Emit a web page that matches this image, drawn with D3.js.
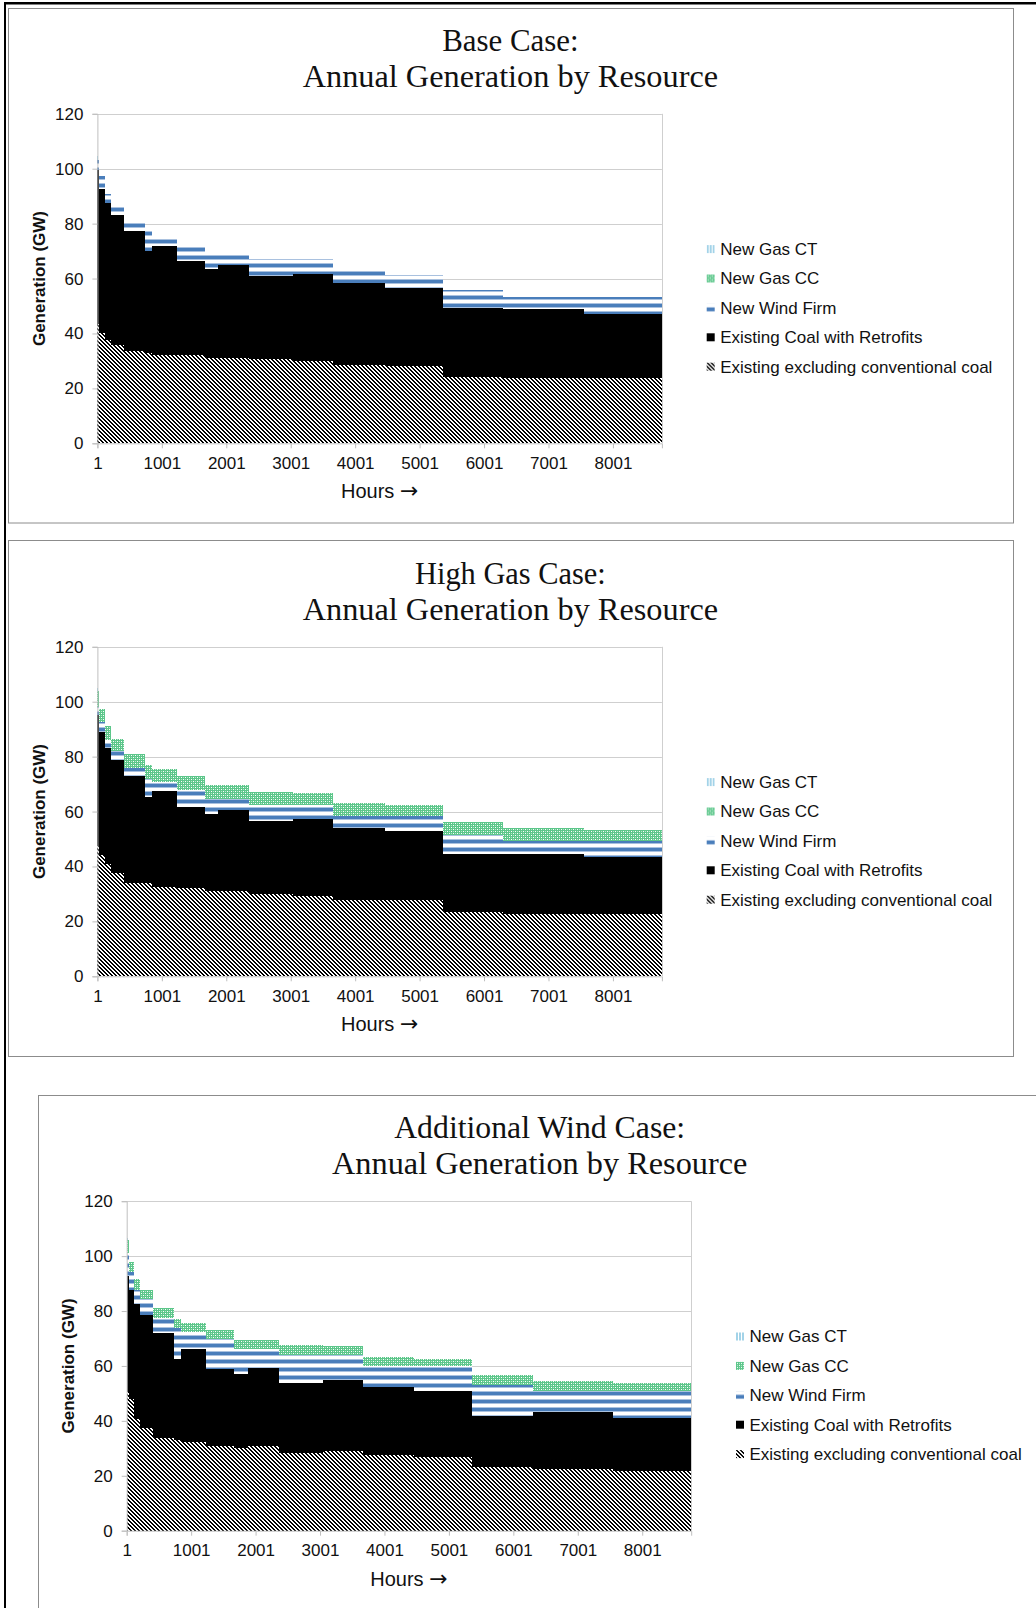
<!DOCTYPE html>
<html><head><meta charset="utf-8">
<script src="https://cdn.jsdelivr.net/npm/d3@7"></script>
<style>
html,body{margin:0;padding:0;background:#fff;}
svg{display:block;}
</style></head>
<body>
<svg id="fig" width="1036" height="1608"></svg>
<script>
// Hour at which each dispatch block begins; each block runs to the next start, the last to finalHour.
const blockStartHours = [1, 30, 118, 211, 413, 739, 843, 1231, 1670, 1877, 2358, 3041, 3662, 4464, 5359, 6300, 7552];
const finalHour = 8761;

const resourceKeys = ["existing", "coal", "wind", "gasCC", "gasCT"];
const legendKeys = ["gasCT", "gasCC", "wind", "coal", "existing"];
const legendLabels = ["New Gas CT", "New Gas CC", "New Wind Firm", "Existing Coal with Retrofits", "Existing excluding conventional coal"];
const yTickValues = [0, 20, 40, 60, 80, 100, 120];
const xTickHours = [1, 1001, 2001, 3001, 4001, 5001, 6001, 7001, 8001];

// Base Case generation by block (GW)
const baseExisting = [43.6, 40.0, 37.8, 35.7, 33.7, 33.0, 32.1, 32.1, 30.9, 30.9, 30.7, 30.0, 28.5, 28.2, 24.0, 23.6, 23.8];
const baseCoal     = [55.8, 52.7, 49.7, 47.3, 43.5, 37.0, 39.6, 34.2, 32.5, 33.9, 30.1, 31.6, 29.9, 28.4, 25.3, 25.2, 23.2];
const baseWind     = [3.6, 4.5, 3.4, 3.5, 3.6, 7.2, 3.6, 6.2, 5.7, 4.3, 6.5, 5.4, 4.6, 4.8, 6.7, 4.3, 6.1];
const baseGasCC    = [0, 0, 0, 0, 0, 0, 0, 0, 0, 0, 0, 0, 0, 0, 0, 0, 0];
const baseGasCT    = [1.8, 0, 0, 0, 0, 0, 0, 0, 0, 0, 0, 0, 0, 0, 0, 0, 0];

// High Gas Case generation by block (GW)
const highGasExisting = [47.3, 44.0, 41.0, 37.6, 33.9, 33.9, 32.5, 32.2, 30.9, 31.2, 29.9, 29.3, 27.8, 27.9, 23.4, 22.7, 22.7];
const highGasCoal     = [47.7, 44.9, 42.2, 41.1, 38.9, 31.4, 34.9, 29.5, 28.3, 29.2, 26.5, 28.0, 26.2, 24.9, 21.2, 21.9, 20.7];
const highGasWind     = [3.0, 3.7, 3.0, 3.3, 3.1, 6.7, 3.3, 6.3, 5.4, 4.2, 6.0, 5.1, 4.2, 5.4, 7.0, 4.5, 5.7];
const highGasGasCC    = [6.0, 4.6, 4.9, 4.6, 4.9, 5.1, 4.8, 4.8, 4.9, 4.9, 4.9, 4.4, 4.9, 4.3, 4.6, 4.9, 4.3];
const highGasGasCT    = [1.1, 0, 0, 0, 0, 0, 0, 0, 0, 0, 0, 0, 0, 0, 0, 0, 0];

// Additional Wind Case generation by block (GW)
const windExisting = [50.7, 48.0, 40.7, 37.4, 33.7, 33.1, 32.3, 30.9, 30.3, 31.0, 28.2, 29.2, 27.4, 27.0, 23.1, 22.5, 21.8];
const windCoal     = [42.0, 39.8, 41.7, 41.3, 38.3, 29.5, 33.9, 28.0, 26.9, 28.3, 25.6, 25.8, 24.9, 23.7, 18.5, 20.6, 19.2];
const windWind     = [8.3, 6.4, 5.4, 5.8, 5.5, 11.3, 6.1, 11.0, 9.0, 6.9, 10.3, 8.9, 7.6, 9.2, 11.6, 7.6, 9.7];
const windGasCC    = [5.0, 3.6, 3.7, 3.0, 3.7, 3.3, 3.4, 3.3, 3.4, 3.4, 3.7, 3.3, 3.2, 2.8, 3.4, 3.7, 3.1];
const windGasCT    = [0.5, 0, 0, 0, 0, 0, 0, 0, 0, 0, 0, 0, 0, 0, 0, 0, 0];

const cases = [
  { title: ["Base Case:", "Annual Generation by Resource"],
    series: { existing: baseExisting, coal: baseCoal, wind: baseWind, gasCC: baseGasCC, gasCT: baseGasCT } },
  { title: ["High Gas Case:", "Annual Generation by Resource"],
    series: { existing: highGasExisting, coal: highGasCoal, wind: highGasWind, gasCC: highGasGasCC, gasCT: highGasGasCT } },
  { title: ["Additional Wind Case:", "Annual Generation by Resource"],
    series: { existing: windExisting, coal: windCoal, wind: windWind, gasCC: windGasCC, gasCT: windGasCT } }
];

// Page layout of the three framed panels
const layout = [
  { frame: { x: 8.5, y: 8.5, w: 1005, h: 514.5 }, plotLeft: 97.4, plotBottom: 443.3, titleW: [136.5, 415.4] },
  { frame: { x: 8.5, y: 540.5, w: 1005, h: 516 }, plotLeft: 97.4, plotBottom: 976.3, titleW: [190.8, 415.4] },
  { frame: { x: 38.5, y: 1095.5, w: 1010, h: 530 }, plotLeft: 126.7, plotBottom: 1530.7, titleW: [291, 415.4] }
];
const plotW = 564.5, plotH = 329.5;

const svg = d3.select("#fig");
const defs = svg.append("defs");

// Pixel fill patterns
function pixelPattern(id, w, h, bg, pixels) {
  const p = defs.append("pattern").attr("id", id).attr("patternUnits", "userSpaceOnUse")
    .attr("width", w).attr("height", h);
  p.append("rect").attr("width", w).attr("height", h).attr("fill", bg);
  pixels.forEach(([px, py, pw, ph, col]) => {
    p.append("rect").attr("x", px).attr("y", py).attr("width", pw).attr("height", ph)
      .attr("fill", col).attr("shape-rendering", "crispEdges");
  });
}

// wide downward diagonal: 2px black band stepping one pixel per row
pixelPattern("pat-existing", 4, 4, "#fff", [
  [0, 0, 2, 1, "#000"], [1, 1, 2, 1, "#000"], [2, 2, 2, 1, "#000"], [3, 3, 1, 1, "#000"], [0, 3, 1, 1, "#000"]
]);
// wide horizontal stripes
pixelPattern("pat-wind", 8, 8, "#fff", [
  [0, 0, 8, 3, "#4A7EBB"], [0, 3, 8, 1, "#A9C1DF"], [0, 7, 8, 1, "#A9C1DF"]
]);
// small checker
pixelPattern("pat-cc", 4, 4, "#5CC68A", [
  [1, 1, 1, 1, "#fff"], [3, 3, 1, 1, "#fff"], [3, 1, 1, 1, "#B6E8CA"], [1, 3, 1, 1, "#B6E8CA"]
]);
// light vertical stripes
pixelPattern("pat-ct", 3, 3, "#fff", [[0, 0, 2, 3, "#A3D3E8"]]);

const fills = { existing: "url(#pat-existing)", coal: "#000", wind: "url(#pat-wind)", gasCC: "url(#pat-cc)", gasCT: "url(#pat-ct)" };

// Outer page rules
svg.append("rect").attr("x", 4).attr("y", 2).attr("width", 1032).attr("height", 2.5).attr("fill", "#000");
svg.append("rect").attr("x", 4).attr("y", 2).attr("width", 2).attr("height", 1606).attr("fill", "#000");

const sans = "Liberation Sans, Arial, sans-serif";

cases.forEach((c, ci) => {
  const L = layout[ci];
  const g = svg.append("g");

  g.append("rect").attr("x", L.frame.x).attr("y", L.frame.y).attr("width", L.frame.w).attr("height", L.frame.h)
    .attr("fill", "#fff").attr("stroke", "#8C8C8C").attr("stroke-width", 1);

  const x = d3.scaleLinear().domain([1, finalHour]).range([L.plotLeft, L.plotLeft + plotW]);
  const y = d3.scaleLinear().domain([0, 120]).range([L.plotBottom, L.plotBottom - plotH]);

  // gridlines
  g.append("g").selectAll("line").data(yTickValues.filter(v => v > 0)).join("line")
    .attr("x1", L.plotLeft).attr("x2", L.plotLeft + plotW)
    .attr("y1", d => Math.round(y(d)) + 0.5).attr("y2", d => Math.round(y(d)) + 0.5)
    .attr("stroke", "#CFCFCF").attr("stroke-width", 1);
  g.append("line").attr("x1", Math.round(L.plotLeft + plotW) + 0.5).attr("x2", Math.round(L.plotLeft + plotW) + 0.5)
    .attr("y1", y(120)).attr("y2", y(0)).attr("stroke", "#CFCFCF");

  // rows: one per block plus a closing row at the final hour
  const rows = blockStartHours.map((h, i) => {
    const r = { hour: h };
    resourceKeys.forEach(k => r[k] = c.series[k][i]);
    return r;
  });
  rows.push(Object.assign({}, rows[rows.length - 1], { hour: finalHour }));

  const stacked = d3.stack().keys(resourceKeys)(rows);
  const area = d3.area().curve(d3.curveStepAfter)
    .x(d => x(d.data.hour)).y0(d => y(d[0])).y1(d => y(d[1]));

  g.append("g").selectAll("path").data(stacked).join("path")
    .attr("d", area).attr("fill", d => fills[d.key]).attr("shape-rendering", "crispEdges");

  // axes
  const yAxis = g.append("g").attr("transform", `translate(${L.plotLeft},0)`)
    .call(d3.axisLeft(y).tickValues(yTickValues).tickSize(5).tickPadding(9));
  const xAxis = g.append("g").attr("transform", `translate(0,${L.plotBottom})`)
    .call(d3.axisBottom(x).tickValues(xTickHours).tickFormat(d3.format("d")).tickSize(5).tickPadding(8.5));
  [yAxis, xAxis].forEach(a => {
    a.select(".domain").attr("stroke", "#BFBFBF");
    a.selectAll(".tick line").attr("stroke", "#BFBFBF");
    a.selectAll("text").attr("font-family", sans).attr("font-size", 17).attr("fill", "#111");
  });

  // axis titles
  const hx = g.append("text").attr("x", L.plotLeft + plotW / 2).attr("y", L.plotBottom + 54.9)
    .attr("text-anchor", "middle").attr("font-family", sans).attr("font-size", 20).attr("fill", "#111");
  hx.append("tspan").text("Hours ");
  hx.append("tspan").attr("font-family", "DejaVu Sans, sans-serif").attr("font-size", 22).text("\u2192");

  g.append("text")
    .attr("transform", `translate(${L.plotLeft - 58.2},${L.plotBottom - plotH / 2}) rotate(-90)`)
    .attr("text-anchor", "middle").attr("dy", "0.35em")
    .attr("font-family", sans).attr("font-weight", "bold")
    .attr("font-size", 17).attr("fill", "#111").text("Generation (GW)");

  // title
  const top = L.plotBottom - plotH;
  c.title.forEach((t, ti) => {
    g.append("text").attr("x", L.plotLeft + 413).attr("y", top - 62.8 + ti * 36)
      .attr("text-anchor", "middle").attr("font-family", "Liberation Serif, Times New Roman, serif")
      .attr("font-size", 31).attr("fill", "#111")
      .attr("textLength", L.titleW[ti]).attr("lengthAdjust", "spacingAndGlyphs").text(t);
  });

  // legend
  const lg = g.append("g").attr("transform", `translate(${L.plotLeft + 609.3},${top + 135.3})`);
  legendKeys.forEach((k, i) => {
    const row = lg.append("g").attr("transform", `translate(0,${i * 29.4})`);
    row.append("rect").attr("x", 0).attr("y", -4).attr("width", 8).attr("height", 8).attr("fill", fills[k]);
    row.append("text").attr("x", 13.5).attr("y", 0).attr("dy", "0.35em")
      .attr("font-family", sans).attr("font-size", 17).attr("fill", "#111")
      .text(legendLabels[i]);
  });
});
</script>
</body></html>
